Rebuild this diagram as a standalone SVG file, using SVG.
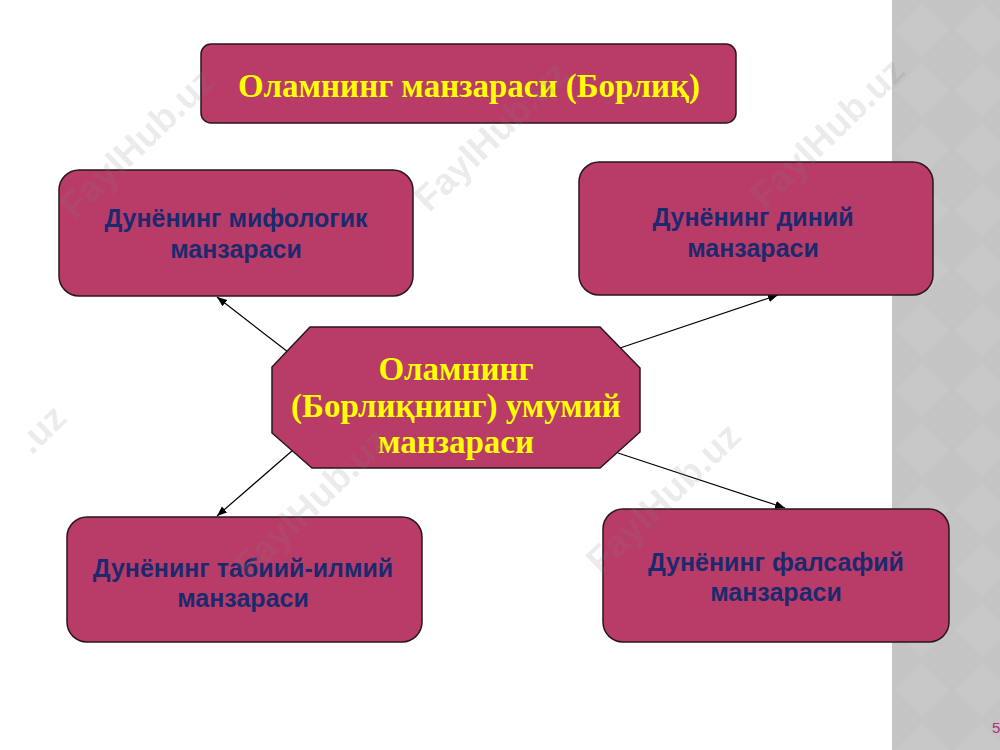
<svg xmlns="http://www.w3.org/2000/svg" width="1000" height="750" viewBox="0 0 1000 750">
<style>
.box{fill:#b93c68;stroke:#2a1620;stroke-width:1.5}
.ser{font-family:"Liberation Serif","Times New Roman",serif;font-weight:bold;fill:#ffff00;text-anchor:middle;font-size:33px}
.san{font-family:"Liberation Sans",Arial,sans-serif;font-weight:bold;font-size:25px;fill:#1b2a6e;text-anchor:middle}
.wm{font-family:"Liberation Sans",Arial,sans-serif;font-weight:bold;font-size:37px;fill:#808080;fill-opacity:0.16;text-anchor:middle}
.con{stroke:#000;stroke-width:1.2;fill:none;marker-end:url(#arr)}
</style>
<defs>
<marker id="arr" markerUnits="userSpaceOnUse" markerWidth="10" markerHeight="10" viewBox="0 0 10 10" refX="10" refY="5" orient="auto">
<path d="M0,1 L10,5 L0,9 z" fill="#000"/>
</marker>
<pattern id="dia" patternUnits="userSpaceOnUse" width="60" height="60" x="892" y="0">
<rect width="60" height="60" fill="#c4c4c4"/>
<path d="M30,3 L57,30 L30,57 L3,30 z" fill="#c8c8c8"/>
</pattern>
</defs>
<rect width="1000" height="750" fill="#ffffff"/>
<rect x="892" y="0" width="108" height="750" fill="url(#dia)"/>
<text x="992" y="733" font-family="Liberation Sans,Arial,sans-serif" font-size="15" fill="#b0307a">5</text>

<g id="connectors">
<line class="con" x1="288" y1="352" x2="217" y2="297"/>
<line class="con" x1="620" y1="348" x2="778" y2="295"/>
<line class="con" x1="293" y1="450" x2="217" y2="516"/>
<line class="con" x1="618" y1="453" x2="785" y2="508"/>
</g>

<g id="title">
<rect class="box" x="201" y="44" width="535" height="79" rx="10"/>
<text class="ser" x="469" y="97">Оламнинг манзараси (Борлиқ)</text>
</g>

<g id="center">
<polygon class="box" points="310,327 600,327 640,368 640,432 600,468 312,468 272,433 272,367"/>
<text class="ser" x="456" y="380">Оламнинг</text>
<text class="ser" x="456" y="417">(Борлиқнинг) умумий</text>
<text class="ser" x="456" y="453">манзараси</text>
</g>

<g id="mythological">
<rect class="box" x="59" y="170" width="354" height="126" rx="20"/>
<text class="san" x="236" y="227">Дунёнинг мифологик</text>
<text class="san" x="236" y="258">манзараси</text>
</g>

<g id="religious">
<rect class="box" x="579" y="162" width="354" height="133" rx="20"/>
<text class="san" x="753" y="226">Дунёнинг диний</text>
<text class="san" x="753" y="257">манзараси</text>
</g>

<g id="natural">
<rect class="box" x="67" y="517" width="355" height="125" rx="20"/>
<text class="san" x="243" y="577">Дунёнинг табиий-илмий</text>
<text class="san" x="243" y="607">манзараси</text>
</g>

<g id="philosophical">
<rect class="box" x="603" y="509" width="346" height="133" rx="20"/>
<text class="san" x="776" y="571">Дунёнинг фалсафий</text>
<text class="san" x="776" y="601">манзараси</text>
</g>

<g id="watermarks">
<text class="wm" transform="translate(146,152) rotate(-44)">FaylHub.uz</text>
<text class="wm" transform="translate(500,145) rotate(-44)">FaylHub.uz</text>
<text class="wm" transform="translate(836,142) rotate(-44)">FaylHub.uz</text>
<text class="wm" transform="translate(50,438) rotate(-44)">.uz</text>
<text class="wm" transform="translate(320,512) rotate(-44)">FaylHub.uz</text>
<text class="wm" transform="translate(672,507) rotate(-44)">FaylHub.uz</text>
</g>
</svg>
